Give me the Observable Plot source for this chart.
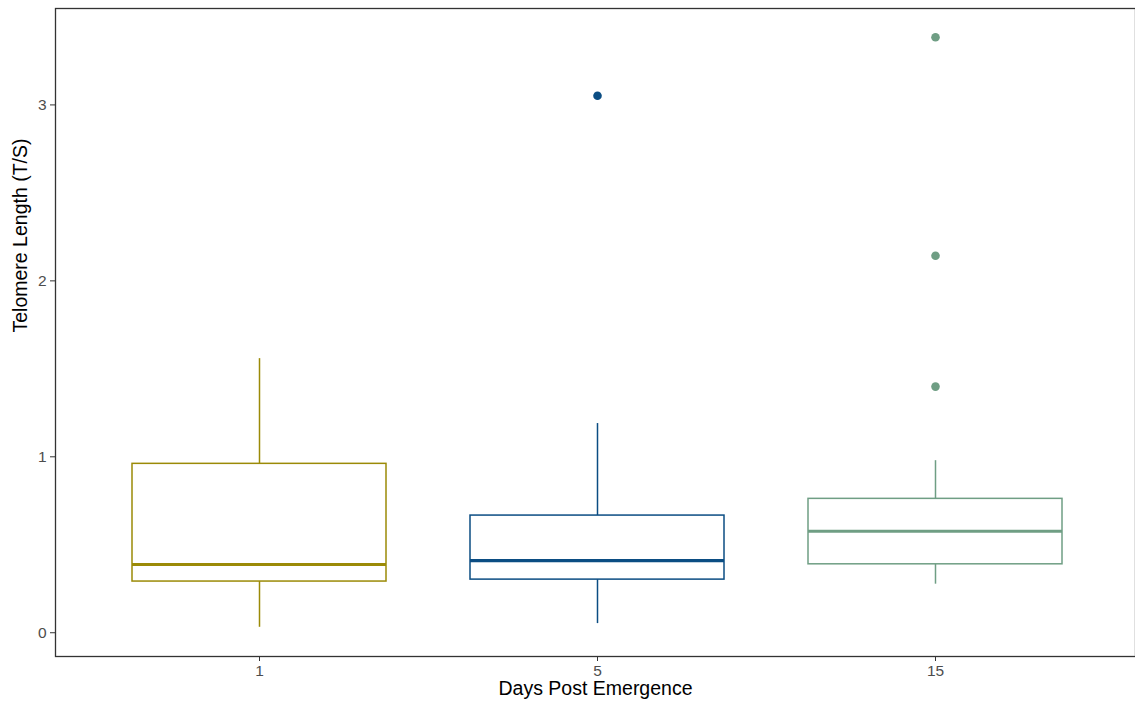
<!DOCTYPE html>
<html>
<head>
<meta charset="utf-8">
<script src="https://cdn.jsdelivr.net/npm/d3@7"></script>
<script src="https://cdn.jsdelivr.net/npm/@observablehq/plot@0.6"></script>
<style>
  html, body { margin: 0; padding: 0; background: #fff; }
  svg { display: block; font-family: "Liberation Sans", Arial, sans-serif; }
</style>
</head>
<body>
<div id="chart"></div>
<script>
const days = ["1", "5", "15"];
const colors = ["#9b8a07", "#0b4d83", "#6f9e84"];
const whiskerLow = [0.031, 0.052, 0.276];
const q1 = [0.291, 0.302, 0.389];
const median = [0.388, 0.410, 0.577];
const q3 = [0.960, 0.666, 0.761];
const whiskerHigh = [1.558, 1.189, 0.978];
const outlierDay = ["5", "15", "15", "15"];
const outlierValue = [3.052, 1.399, 2.143, 3.385];
const yTicks = [0, 1, 2, 3];

const boxes = days.map((d, i) => ({
  day: d, lo: whiskerLow[i], q1: q1[i], med: median[i], q3: q3[i], hi: whiskerHigh[i]
}));
const outliers = outlierDay.map((d, i) => ({ day: d, v: outlierValue[i] }));

const chart = Plot.plot({
  width: 1135,
  height: 708,
  marginLeft: 55,
  marginTop: 8,
  marginBottom: 52,
  marginRight: 0,
  x: { domain: days, range: [55, 1138.2], paddingInner: 0.25, paddingOuter: 0.225, align: 0.5, axis: null },
  y: { domain: [-0.135, 3.548], range: [656, 8], axis: null },
  color: { domain: days, range: colors },
  style: { fontFamily: "'Liberation Sans', Arial, sans-serif", background: "#fff", fontSize: "15.5px" },
  marks: [
    Plot.ruleX(boxes, { x: "day", y1: "q3", y2: "hi", stroke: "day", strokeWidth: 1.5 }),
    Plot.ruleX(boxes, { x: "day", y1: "lo", y2: "q1", stroke: "day", strokeWidth: 1.5 }),
    Plot.barY(boxes, { x: "day", y1: "q1", y2: "q3", fill: "white", stroke: "day", strokeWidth: 1.5 }),
    Plot.tickY(boxes, { x: "day", y: "med", stroke: "day", strokeWidth: 3.2 }),
    Plot.dot(outliers, { x: "day", y: "v", fill: "day", r: 4.3, stroke: null }),
    Plot.axisY({ ticks: yTicks, tickFormat: d => String(d), tickSize: 5, tickPadding: 4, stroke: "#333", fill: "#4d4d4d", fontSize: 15.5, label: null, strokeWidth: 1 }),
    Plot.axisX({ tickSize: 5, tickPadding: 3, stroke: "#333", fill: "#4d4d4d", fontSize: 15.5, label: null, strokeWidth: 1 }),
    Plot.frame({ stroke: "#333", strokeWidth: 1.3 }),
    Plot.text(["Days Post Emergence"], { frameAnchor: "bottom", dy: 38, fontSize: 19.5, fill: "#000" }),
    Plot.text(["Telomere Length (T/S)"], { frameAnchor: "left", dx: -35, rotate: -90, fontSize: 19.5, fill: "#000" })
  ]
});
document.getElementById("chart").appendChild(chart);
</script>
</body>
</html>
